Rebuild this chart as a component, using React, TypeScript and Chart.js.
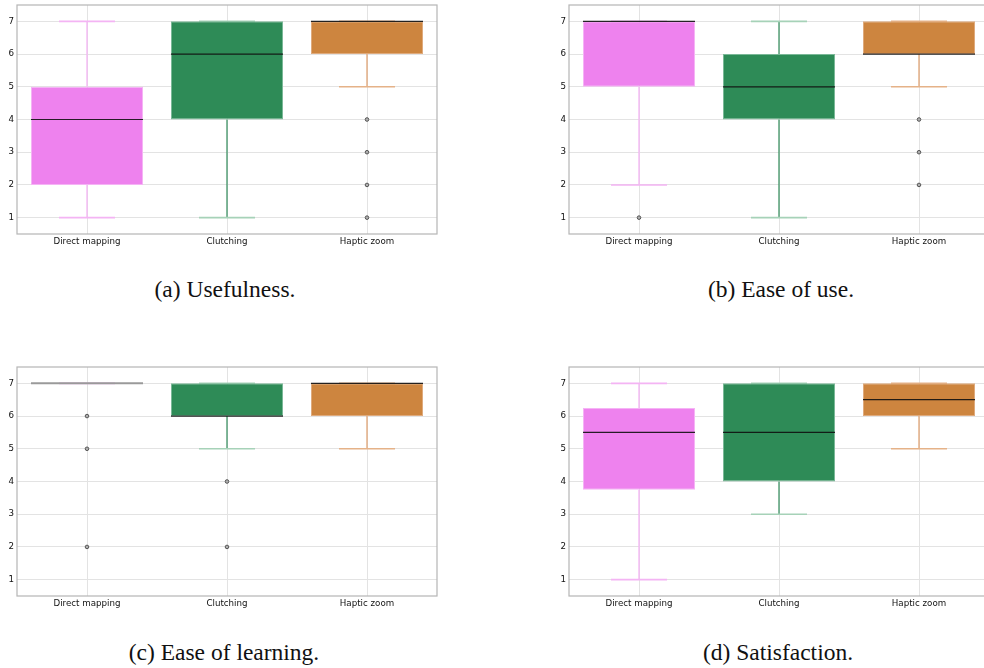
import React, { useEffect, useRef } from "react";
import { Chart, registerables } from "chart.js";
Chart.register(...registerables);

const categories = ["Direct mapping", "Clutching", "Haptic zoom"];
const yTicks = [1, 2, 3, 4, 5, 6, 7];

// (a) Usefulness
const usefulnessQ1 = [2, 4, 6];
const usefulnessQ3 = [5, 7, 7];
const usefulnessMedian = [4, 6, 7];
const usefulnessLow = [1, 1, 5];
const usefulnessHigh = [7, 7, 7];
const usefulnessOutliers = [[], [], [4, 3, 2, 1]];

// (b) Ease of use
const easeUseQ1 = [5, 4, 6];
const easeUseQ3 = [7, 6, 7];
const easeUseMedian = [7, 5, 6];
const easeUseLow = [2, 1, 5];
const easeUseHigh = [7, 7, 7];
const easeUseOutliers = [[1], [], [4, 3, 2]];

// (c) Ease of learning
const easeLearnQ1 = [7, 6, 6];
const easeLearnQ3 = [7, 7, 7];
const easeLearnMedian = [7, 6, 7];
const easeLearnLow = [7, 5, 5];
const easeLearnHigh = [7, 7, 7];
const easeLearnOutliers = [[6, 5, 2], [4, 2], []];

// (d) Satisfaction
const satisfactionQ1 = [3.75, 4, 6];
const satisfactionQ3 = [6.25, 7, 7];
const satisfactionMedian = [5.5, 5.5, 6.5];
const satisfactionLow = [1, 3, 5];
const satisfactionHigh = [7, 7, 7];
const satisfactionOutliers = [[], [], []];

const fillColors = ["#EE82EE", "#2E8B57", "#CD853F"];
const boxBorderColors = ["#f5b3f5", "#7ab897", "#dfaa7c"];
const whiskerColors = ["#f4b4f4", "#3f9466", "#e0a576"];
const capColors = ["#f4b4f4", "#a6d2b8", "#e5b288"];

const TICK_FONT = { family: "DejaVu Sans", size: 8.7 };

type PanelProps = {
  left: number;
  top: number;
  q1: number[];
  q3: number[];
  median: number[];
  low: number[];
  high: number[];
  outliers: number[][];
};

function BoxPanel(props: PanelProps) {
  const ref = useRef<HTMLCanvasElement | null>(null);
  useEffect(() => {
    if (!ref.current) return;
    const { q1, q3, median, low, high, outliers } = props;
    const outlierPoints: { x: string; y: number }[] = [];
    outliers.forEach((arr, i) => arr.forEach((v) => outlierPoints.push({ x: categories[i], y: v })));

    const boxPlugin = {
      id: "boxParts",
      beforeDatasetsDraw(chart: any) {
        const ctx = chart.ctx;
        const xs = chart.scales.x;
        const ys = chart.scales.y;
        const half = 0.2;
        ctx.save();
        for (let i = 0; i < categories.length; i++) {
          const cx = xs.getPixelForValue(i);
          ctx.strokeStyle = whiskerColors[i];
          ctx.lineWidth = 1.3;
          ctx.beginPath();
          ctx.moveTo(cx, ys.getPixelForValue(q3[i]));
          ctx.lineTo(cx, ys.getPixelForValue(high[i]));
          ctx.moveTo(cx, ys.getPixelForValue(q1[i]));
          ctx.lineTo(cx, ys.getPixelForValue(low[i]));
          ctx.stroke();
          ctx.strokeStyle = capColors[i];
          ctx.lineWidth = 1.6;
          const xl = xs.getPixelForValue(i - half);
          const xr = xs.getPixelForValue(i + half);
          ctx.beginPath();
          ctx.moveTo(xl, ys.getPixelForValue(high[i]));
          ctx.lineTo(xr, ys.getPixelForValue(high[i]));
          ctx.moveTo(xl, ys.getPixelForValue(low[i]));
          ctx.lineTo(xr, ys.getPixelForValue(low[i]));
          ctx.stroke();
        }
        ctx.restore();
      },
      afterDatasetsDraw(chart: any) {
        const ctx = chart.ctx;
        const xs = chart.scales.x;
        const ys = chart.scales.y;
        ctx.save();
        for (let i = 0; i < categories.length; i++) {
          const xl = xs.getPixelForValue(i - 0.4);
          const xr = xs.getPixelForValue(i + 0.4);
          const y = ys.getPixelForValue(median[i]);
          const collapsed = q1[i] === q3[i];
          ctx.strokeStyle = collapsed ? "#9a9a9a" : "rgba(15,15,15,0.9)";
          ctx.lineWidth = collapsed ? 2 : 1.2;
          ctx.beginPath();
          ctx.moveTo(xl, y);
          ctx.lineTo(xr, y);
          ctx.stroke();
        }
        ctx.restore();
      },
      afterDraw(chart: any) {
        const { ctx, chartArea } = chart;
        ctx.save();
        ctx.strokeStyle = "#b5b5b5";
        ctx.lineWidth = 1.2;
        ctx.strokeRect(chartArea.left, chartArea.top, chartArea.right - chartArea.left, chartArea.bottom - chartArea.top);
        ctx.restore();
      },
    };

    const chart = new Chart(ref.current, {
      type: "bar",
      data: {
        labels: categories,
        datasets: [
          {
            type: "bar",
            data: q1.map((v, i) => [v, q3[i]]) as any,
            backgroundColor: fillColors,
            borderColor: boxBorderColors,
            borderWidth: 1,
            borderSkipped: false,
            barPercentage: 0.8,
            categoryPercentage: 1,
          } as any,
          {
            type: "line",
            data: outlierPoints as any,
            showLine: false,
            pointRadius: 1.8,
            pointBackgroundColor: "#b0b0b0",
            pointBorderColor: "#555555",
            pointBorderWidth: 1,
          } as any,
        ],
      },
      options: {
        responsive: false,
        animation: false,
        devicePixelRatio: 1,
        layout: { padding: { top: 5, right: 13, left: 0, bottom: 0 } },
        plugins: { legend: { display: false }, tooltip: { enabled: false } },
        scales: {
          x: {
            type: "category",
            offset: true,
            grid: { offset: false, color: "#e3e3e3", drawTicks: false },
            border: { display: false },
            ticks: { font: TICK_FONT, color: "#111", padding: 3, maxRotation: 0 },
            afterFit: (s: any) => {
              s.height = 28;
              s.paddingLeft = 0;
              s.paddingRight = 0;
            },
          },
          y: {
            type: "linear",
            min: 0.5,
            max: 7.5,
            grid: { color: "#e3e3e3", drawTicks: false },
            border: { display: false },
            ticks: { font: TICK_FONT, color: "#111", padding: 3 },
            afterBuildTicks: (axis: any) => {
              axis.ticks = yTicks.map((v) => ({ value: v }));
            },
            afterFit: (s: any) => {
              s.width = 17;
              s.paddingTop = 0;
              s.paddingBottom = 0;
            },
          },
        },
      } as any,
      plugins: [boxPlugin],
    });
    return () => chart.destroy();
  }, []);
  return (
    <canvas
      ref={ref}
      width={450}
      height={262}
      style={{ position: "absolute", left: props.left, top: props.top, width: 450, height: 262 }}
    />
  );
}

const captionStyle = (cx: number, cy: number): React.CSSProperties => ({
  position: "absolute",
  left: cx - 200,
  width: 400,
  top: cy - 15,
  height: 30,
  lineHeight: "30px",
  textAlign: "center",
  fontFamily: "'Liberation Serif', serif",
  fontSize: 23.5,
  color: "#111",
  whiteSpace: "nowrap",
});

export default function App() {
  return (
    <div
      style={{
        position: "fixed",
        left: 0,
        top: 0,
        width: 984,
        height: 668,
        overflow: "hidden",
        background: "#fff",
      }}
    >
      <BoxPanel left={0} top={0} q1={usefulnessQ1} q3={usefulnessQ3} median={usefulnessMedian} low={usefulnessLow} high={usefulnessHigh} outliers={usefulnessOutliers} />
      <BoxPanel left={552} top={0} q1={easeUseQ1} q3={easeUseQ3} median={easeUseMedian} low={easeUseLow} high={easeUseHigh} outliers={easeUseOutliers} />
      <BoxPanel left={0} top={362} q1={easeLearnQ1} q3={easeLearnQ3} median={easeLearnMedian} low={easeLearnLow} high={easeLearnHigh} outliers={easeLearnOutliers} />
      <BoxPanel left={552} top={362} q1={satisfactionQ1} q3={satisfactionQ3} median={satisfactionMedian} low={satisfactionLow} high={satisfactionHigh} outliers={satisfactionOutliers} />
      <div style={captionStyle(225, 289)}>(a) Usefulness.</div>
      <div style={captionStyle(781, 289)}>(b) Ease of use.</div>
      <div style={captionStyle(224, 652)}>(c) Ease of learning.</div>
      <div style={captionStyle(778, 652)}>(d) Satisfaction.</div>
    </div>
  );
}
